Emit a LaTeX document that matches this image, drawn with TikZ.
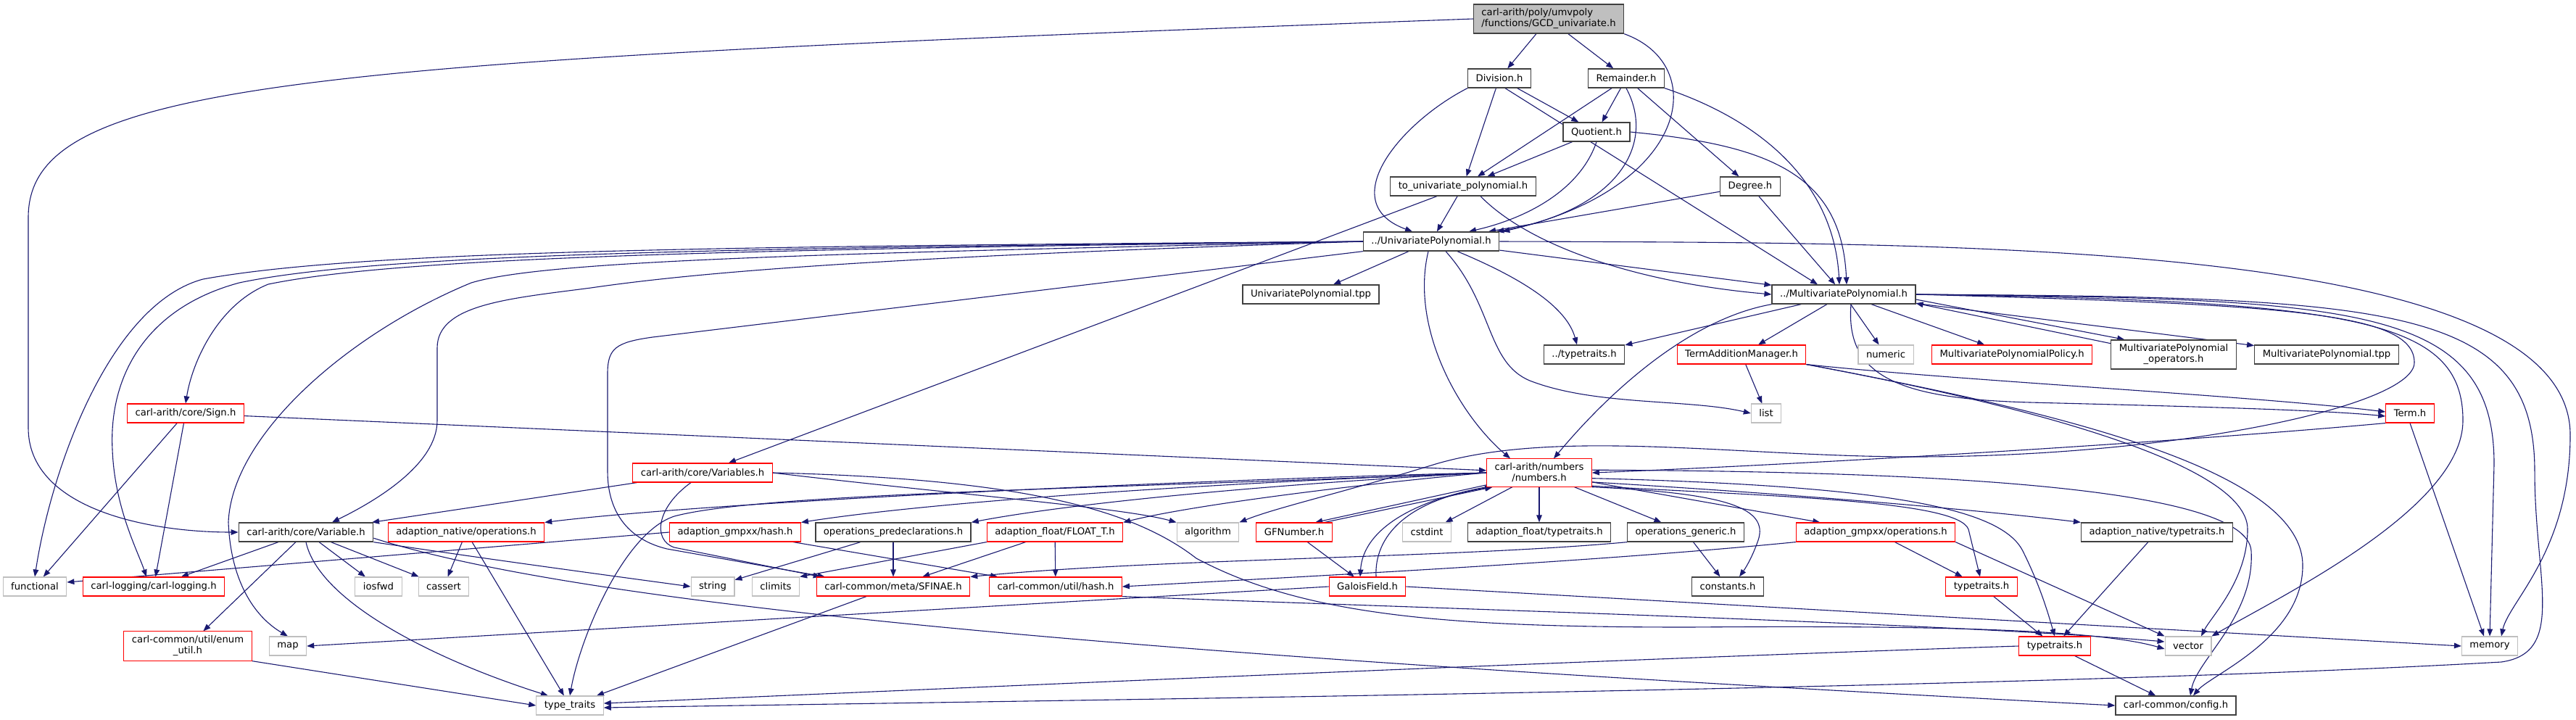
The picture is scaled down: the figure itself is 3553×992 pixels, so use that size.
\documentclass[tikz,border=0pt]{standalone}
\usepackage{fontspec}
\newfontfamily\doxfont{DejaVu Sans}
\usepackage{xcolor}
\definecolor{edgeBlue}{RGB}{25, 25, 112}
\definecolor{darkGray}{RGB}{64, 64, 64}
\definecolor{lightGray}{RGB}{191, 191, 191}
\definecolor{truncRed}{RGB}{255, 0, 0}
\usepackage{tikz}
\usetikzlibrary{arrows.meta, backgrounds}

\begin{document}
\begin{tikzpicture}[
  x=0.5pt, y=-0.5pt,
  box/.style={rectangle, fill=white, text=black, align=center,
              font=\doxfont\fontsize{6.6}{7.5}\selectfont,
              inner xsep=5.5pt, inner ysep=3pt, minimum height=13pt, line width=0.55pt},
  file/.style={box, draw=darkGray, line width=0.65pt},
  trunc/.style={box, draw=truncRed},
  sys/.style={box, draw=lightGray},
  focus/.style={box, draw=darkGray, fill=lightGray, line width=0.65pt, align=left},
  arr/.style={-{Triangle[length=5pt, width=3.8pt]}, draw=edgeBlue, line width=0.55pt}]

  \useasboundingbox (0, 0) rectangle (3553, 992);

  % ── The header and the headers it pulls in ───────────────────────
  \node[focus] (root) at (2136, 26) {carl-arith/poly/umvpoly\\/functions/GCD\_univariate.h};
  \node[file] (division)  at (2068, 108) {Division.h};
  \node[file] (remainder) at (2243, 108) {Remainder.h};
  \node[file] (quotient)  at (2202, 182) {Quotient.h};
  \node[file] (touniv)    at (2018, 257) {to\_univariate\_polynomial.h};
  \node[file] (degree)    at (2414, 257) {Degree.h};

  % ── Polynomial headers ───────────────────────────────────────────
  \node[file]  (univ)     at (1974, 333) {../UnivariatePolynomial.h};
  \node[file]  (univtpp)  at (1808, 406) {UnivariatePolynomial.tpp};
  \node[file]  (multi)    at (2543, 406) {../MultivariatePolynomial.h};
  \node[file]  (uptypetr) at (2185, 489) {../typetraits.h};
  \node[trunc] (tam)      at (2402, 489) {TermAdditionManager.h};
  \node[sys]   (numeric)  at (2601, 489) {numeric};
  \node[trunc] (policy)   at (2775, 489) {MultivariatePolynomialPolicy.h};
  \node[file]  (mvops)    at (2998, 489) {MultivariatePolynomial\\\_operators.h};
  \node[file]  (mvtpp)    at (3209, 489) {MultivariatePolynomial.tpp};
  \node[sys]   (list)     at (2436, 570) {list};
  \node[trunc] (term)     at (3324, 570) {Term.h};
  \node[trunc] (sign)     at (256, 570)  {carl-arith/core/Sign.h};

  % ── Numbers and core ─────────────────────────────────────────────
  \node[trunc] (numbers)   at (2123, 652) {carl-arith/numbers\\/numbers.h};
  \node[trunc] (variables) at (969, 652)  {carl-arith/core/Variables.h};

  \node[file]  (variable)  at (422, 734)  {carl-arith/core/Variable.h};
  \node[trunc] (natops)    at (643, 734)  {adaption\_native/operations.h};
  \node[trunc] (gmphash)   at (1014, 734) {adaption\_gmpxx/hash.h};
  \node[file]  (predecl)   at (1232, 734) {operations\_predeclarations.h};
  \node[trunc] (floatt)    at (1455, 734) {adaption\_float/FLOAT\_T.h};
  \node[sys]   (algorithm) at (1666, 734) {algorithm};
  \node[trunc] (gfnumber)  at (1785, 734) {GFNumber.h};
  \node[sys]   (cstdint)   at (1968, 734) {cstdint};
  \node[file]  (floattr)   at (2123, 734) {adaption\_float/typetraits.h};
  \node[file]  (opgeneric) at (2325, 734) {operations\_generic.h};
  \node[trunc] (gmpops)    at (2587, 734) {adaption\_gmpxx/operations.h};
  \node[file]  (nattr)     at (2975, 734) {adaption\_native/typetraits.h};

  \node[sys]   (functional) at (48, 809)   {functional};
  \node[trunc] (logging)    at (212, 809)  {carl-logging/carl-logging.h};
  \node[sys]   (iosfwd)     at (522, 809)  {iosfwd};
  \node[sys]   (cassert)    at (612, 809)  {cassert};
  \node[sys]   (string)     at (983, 809)  {string};
  \node[sys]   (climits)    at (1070, 809) {climits};
  \node[trunc] (sfinae)     at (1232, 809) {carl-common/meta/SFINAE.h};
  \node[trunc] (utilhash)   at (1456, 809) {carl-common/util/hash.h};
  \node[trunc] (galois)     at (1886, 809) {GaloisField.h};
  \node[file]  (constants)  at (2383, 809) {constants.h};
  \node[trunc] (typetrA)    at (2733, 809) {typetraits.h};

  \node[trunc] (enumutil) at (259, 891)  {carl-common/util/enum\\\_util.h};
  \node[sys]   (map)      at (397, 891)  {map};
  \node[trunc] (typetrB)  at (2834, 891) {typetraits.h};
  \node[sys]   (vector)   at (3018, 891) {vector};
  \node[sys]   (memory)   at (3434, 891) {memory};

  \node[sys]  (stdtraits) at (786, 973)  {type\_traits};
  \node[file] (config)    at (3001, 973) {carl-common/config.h};

  \begin{scope}[on background layer]
  \fill[white] (0, 0) rectangle (3553, 992);

  % ── Includes of the header ───────────────────────────────────────
  \draw[arr] (root) -- (division);
  \draw[arr] (root) -- (remainder);
  \draw[arr] (root.south east) .. controls (2360, 90) and (2330, 260) .. ([xshift=2pt]univ.north east);
  \draw[arr] (root.west) .. controls (420, 85) and (39, 110) .. (39, 300) -- (39, 590)
             .. controls (39, 700) and (200, 734) .. (variable.west);

  \draw[arr] (division) -- (quotient);
  \draw[arr] (division) -- (touniv);
  \draw[arr] (division.south west) .. controls (1930, 170) and (1840, 280) .. ([xshift=-13pt]univ.north);
  \draw[arr] ([xshift=4pt]division.south) -- ([xshift=-18pt]multi.north);

  \draw[arr] (remainder) -- (quotient);
  \draw[arr] ([xshift=-10pt]remainder.south) -- ([xshift=10pt]touniv.north);
  \draw[arr] (remainder.south) .. controls (2285, 200) and (2230, 290) .. ([xshift=-2pt]univ.north east);
  \draw[arr] (remainder) -- (degree);
  \draw[arr] (remainder.south east) .. controls (2440, 170) and (2530, 260) .. ([xshift=-3pt]multi.north);

  \draw[arr] (quotient) -- (touniv);
  \draw[arr] (quotient.south) .. controls (2180, 260) and (2110, 300) .. ([xshift=26pt]univ.north);
  \draw[arr] (quotient.east) .. controls (2440, 200) and (2540, 240) .. ([xshift=2pt]multi.north);

  \draw[arr] (touniv) -- (univ);
  \draw[arr] ([xshift=12pt]touniv.south) .. controls (2110, 340) and (2260, 390) .. (multi.west);
  \draw[arr] (touniv) -- (variables);

  \draw[arr] (degree) -- (univ);
  \draw[arr] (degree) -- (multi);

  % ── UnivariatePolynomial.h ───────────────────────────────────────
  \draw[arr] (univ) -- (univtpp);
  \draw[arr] (univ) -- (multi);
  \draw[arr] ([xshift=18pt]univ.south) .. controls (2090, 380) and (2160, 420) .. ([xshift=-5pt]uptypetr.north);
  \draw[arr] ([xshift=10pt]univ.south) .. controls (2060, 420) and (2050, 500) .. (2110, 525)
             .. controls (2200, 560) and (2330, 550) .. (list.west);
  \draw[arr] ([xshift=-2pt]univ.south) .. controls (1945, 450) and (2010, 570) .. ([xshift=-20pt]numbers.north);
  \draw[arr] (univ.west) .. controls (1000, 340) and (500, 345) .. (280, 385)
             .. controls (150, 420) and (70, 650) .. (functional.north);
  \draw[arr] (univ.west) .. controls (1000, 342) and (520, 350) .. (330, 390)
             .. controls (200, 425) and (150, 520) .. (155, 620)
             .. controls (158, 700) and (190, 760) .. ([xshift=-5pt]logging.north);
  \draw[arr] (univ.west) .. controls (1000, 344) and (550, 355) .. (370, 392)
             .. controls (300, 420) and (265, 500) .. (sign.north);
  \draw[arr] (univ.west) .. controls (1100, 350) and (750, 360) .. (650, 390)
             .. controls (480, 460) and (320, 600) .. (315, 720)
             .. controls (318, 800) and (350, 850) .. (map.north);
  \draw[arr] (univ.west) .. controls (1300, 352) and (1000, 370) .. (815, 397)
             .. controls (700, 412) and (603, 420) .. (603, 480) -- (603, 580)
             .. controls (603, 640) and (520, 690) .. ([xshift=18pt]variable.north);
  \draw[arr] (univ.south west) -- (900, 465) .. controls (850, 472) and (838, 480) .. (838, 515) -- (838, 650)
             .. controls (838, 710) and (870, 745) .. (920, 757) -- ([xshift=6pt]sfinae.north west);
  \draw[arr] (univ.east) .. controls (2700, 335) and (3545, 330) .. (3545, 600)
             .. controls (3545, 760) and (3460, 830) .. ([xshift=8pt]memory.north);

  % ── MultivariatePolynomial.h ─────────────────────────────────────
  \draw[arr] (multi) -- (uptypetr);
  \draw[arr] (multi.south west) .. controls (2330, 440) and (2220, 540) .. ([xshift=10pt]numbers.north);
  \draw[arr] (multi) -- (tam);
  \draw[arr] (multi) -- (numeric);
  \draw[arr] (multi) -- (policy);
  \draw[arr] (multi.-4) -- (mvops.163);
  \draw[arr] (mvops.170) -- (multi.-7);
  \draw[arr] (multi) -- (mvtpp);
  \draw[arr] ([xshift=5pt]multi.south) .. controls (2545, 520) and (2620, 550) .. (2800, 555)
             .. controls (3000, 560) and (3200, 565) .. ([yshift=-2pt]term.west);
  \draw[arr] (multi.east) .. controls (3250, 412) and (3440, 420) .. (3440, 640) -- (memory.north);
  \draw[arr] (multi.east) .. controls (3300, 410) and (3496, 420) .. (3496, 650)
             .. controls (3496, 800) and (3540, 900) .. (3450, 913)
             .. controls (2800, 950) and (1500, 965) .. ([yshift=-1.5pt]stdtraits.east);
  \draw[arr] (multi.east) .. controls (3250, 415) and (3397, 440) .. (3397, 580)
             .. controls (3397, 700) and (3150, 820) .. (vector.north east);
  \draw[arr] (multi.east) .. controls (3150, 420) and (3330, 430) .. (3330, 500)
             .. controls (3330, 560) and (3000, 630) .. (2640, 630)
             .. controls (2400, 630) and (2150, 590) .. (1980, 640)
             .. controls (1850, 680) and (1760, 700) .. (algorithm.north east);

  \draw[arr] (tam) -- (list);
  \draw[arr] (tam.south east) .. controls (2700, 525) and (3100, 545) .. ([yshift=1pt]term.west);
  \draw[arr] (tam.south east) .. controls (2800, 560) and (3100, 640) .. (3100, 730)
             .. controls (3100, 800) and (3050, 850) .. ([xshift=9pt]vector.north);
  \draw[arr] (tam.south east) .. controls (2850, 570) and (3176, 650) .. (3176, 780)
             .. controls (3176, 880) and (3050, 930) .. ([xshift=12pt]config.north);

  \draw[arr] (term.south west) .. controls (3000, 610) and (2500, 640) .. (numbers.east);
  \draw[arr] (term.south) -- ([xshift=-4pt]memory.north);

  % ── Sign, Variables, Variable ────────────────────────────────────
  \draw[arr] (sign) -- (functional);
  \draw[arr] (sign) -- (logging);
  \draw[arr] (sign) -- (numbers);

  \draw[arr] (variables) -- (variable);
  \draw[arr] ([xshift=-8pt]variables.south) .. controls (905, 700) and (900, 745) .. (930, 755)
             -- ([xshift=3pt]sfinae.north west);
  \draw[arr] (variables.east) .. controls (1300, 680) and (1550, 700) .. (algorithm.north west);
  \draw[arr] (variables.east) .. controls (1400, 660) and (1560, 700) .. (1650, 770)
             .. controls (1800, 850) and (2000, 865) .. (2330, 865)
             .. controls (2700, 862) and (2900, 870) .. ([yshift=-2pt]vector.west);

  \draw[arr] (variable) -- (logging);
  \draw[arr] (variable) -- (enumutil);
  \draw[arr] (variable) -- (iosfwd);
  \draw[arr] (variable) -- (cassert);
  \draw[arr] (variable.south) .. controls (440, 830) and (600, 910) .. ([xshift=-15pt]stdtraits.north);
  \draw[arr] (variable.south east) .. controls (700, 775) and (850, 795) .. (string.west);
  \draw[arr] (variable.-5) .. controls (850, 850) and (1800, 915) .. (config.west);

  \draw[arr] (natops) -- (cassert);
  \draw[arr] (natops) -- (stdtraits);
  \draw[arr] (enumutil.south east) -- (stdtraits.west);

  % ── numbers.h ────────────────────────────────────────────────────
  \draw[arr] (numbers) -- (cstdint);
  \draw[arr] (numbers) -- (floattr);
  \draw[arr] (numbers) -- (opgeneric);
  \draw[arr] (numbers) -- (gmpops);
  \draw[arr] (numbers.193) -- (gfnumber.25);
  \draw[arr] (gfnumber.18) -- (numbers.197);
  \draw[arr] (numbers.south west) .. controls (1950, 690) and (1880, 730) .. ([xshift=-5pt]galois.north);
  \draw[arr] ([xshift=6pt]galois.north) .. controls (1895, 740) and (1940, 690) .. ([xshift=4pt]numbers.south west);
  \draw[arr] (numbers.south east) .. controls (2380, 680) and (2440, 700) .. (2425, 745)
             .. controls (2418, 765) and (2410, 780) .. ([xshift=8pt]constants.north);
  \draw[arr] (numbers.-10) .. controls (2450, 680) and (2700, 700) .. (nattr.north west);
  \draw[arr] (numbers.-14) .. controls (2450, 685) and (2700, 690) .. (2715, 730) -- ([xshift=-1pt]typetrA.north);
  \draw[arr] (numbers.-6) .. controls (2600, 670) and (2760, 700) .. (2790, 760)
             .. controls (2815, 810) and (2826, 850) .. (typetrB.north);
  \draw[arr] (numbers.3) .. controls (2650, 650) and (3100, 670) .. (3105, 760)
             .. controls (3110, 850) and (3030, 910) .. ([xshift=10pt]config.north);
  \draw[arr] (numbers.west) .. controls (1700, 660) and (1000, 690) .. (natops.north east);
  \draw[arr] (numbers.west) .. controls (1700, 665) and (1300, 690) .. (gmphash.north east);
  \draw[arr] (numbers.west) .. controls (1800, 665) and (1500, 690) .. (predecl.north east);
  \draw[arr] (numbers.west) .. controls (1900, 665) and (1650, 695) .. (floatt.north east);
  \draw[arr] (numbers.west) .. controls (1500, 675) and (1050, 680) .. (930, 712)
             .. controls (860, 735) and (800, 880) .. (stdtraits.north);

  % ── Lower headers ────────────────────────────────────────────────
  \draw[arr] (gmphash.west) -- ([yshift=3pt]functional.east);
  \draw[arr] (gmphash) -- (utilhash);
  \draw[arr] (predecl) -- (string);
  \draw[arr] (predecl) -- (sfinae);
  \draw[arr] (floatt.south west) -- (climits.north east);
  \draw[arr] (floatt) -- (sfinae);
  \draw[arr] (floatt) -- (utilhash);
  \draw[arr] (gfnumber) -- (galois);
  \draw[arr] (galois.west) -- (map.east);
  \draw[arr] (galois.east) -- (memory.west);
  \draw[arr] (opgeneric) -- (constants);
  \draw[arr] (opgeneric.south west) .. controls (2000, 770) and (1600, 770) .. (sfinae.north east);
  \draw[arr] (gmpops) -- (typetrA);
  \draw[arr] (gmpops.south east) -- (vector.north west);
  \draw[arr] (gmpops.south west) .. controls (2200, 775) and (1800, 795) .. (utilhash.east);
  \draw[arr] (nattr) -- (typetrB);
  \draw[arr] (typetrA) -- (typetrB);
  \draw[arr] (typetrB) -- (config);
  \draw[arr] (typetrB.west) .. controls (2200, 910) and (1300, 950) .. ([yshift=1.5pt]stdtraits.east);
  \draw[arr] (sfinae) -- (stdtraits);
  \draw[arr] (utilhash.south east) .. controls (2000, 840) and (2700, 860) .. ([yshift=3pt]vector.west);
  \end{scope}

\end{tikzpicture}
\end{document}
